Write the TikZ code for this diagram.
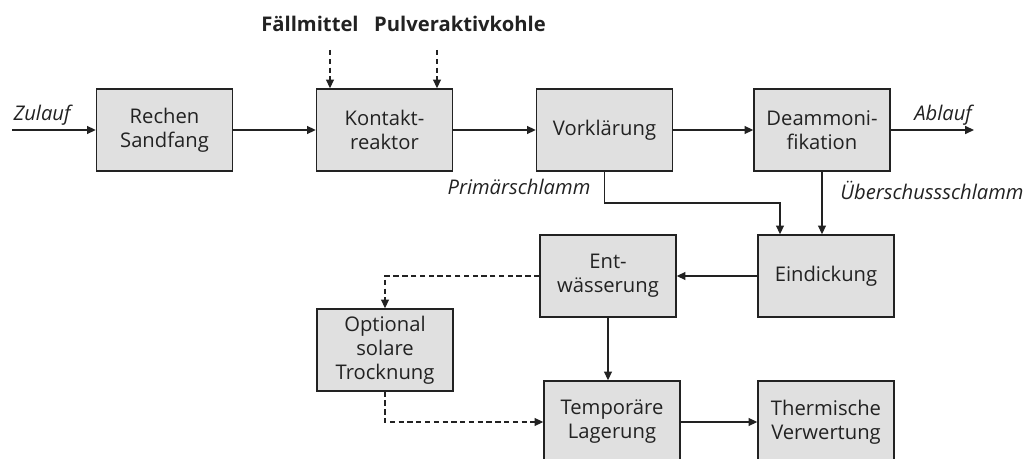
\documentclass[tikz,border=0pt]{standalone}
\usepackage{fontspec}
\setmainfont{Open Sans}
\usetikzlibrary{arrows.meta}
\definecolor{BoxClr}{RGB}{224,224,224}
\definecolor{LineClr}{RGB}{34,34,34}

\begin{document}
\begin{tikzpicture}[x=0.02cm,y=-0.02cm,
  box/.style={draw=LineClr,fill=BoxClr,line width=0.8pt,minimum width=2.72cm,
    minimum height=1.64cm,inner sep=0pt,align=center,text=LineClr,
    font=\fontsize{11.5}{13.6}\selectfont},
  flow/.style={draw=LineClr,line width=0.75pt,-{Triangle[length=5pt,width=4.5pt]}},
  opt/.style={flow,dash pattern=on 3pt off 2pt},
  lbl/.style={text=LineClr,font=\fontsize{11.5}{13.6}\selectfont\itshape},
  head/.style={text=LineClr,font=\fontsize{11.5}{13.6}\selectfont\bfseries}]
\useasboundingbox (0,0) rectangle (1029,459);

\node[box] (rechen) at (164.5,130) {Rechen\\Sandfang};
\node[box] (kontakt) at (384.5,130) {Kontakt-\\reaktor};
\node[box] (vkl) at (604.5,130) {Vorklärung};
\node[box] (deam) at (822,130) {Deammoni-\\fikation};
\node[box] (eind) at (826,276) {Eindickung};
\node[box] (entw) at (608,276) {Ent-\\wässerung};
\node[box] (trock) at (385,350) {Optional\\solare\\Trocknung};
\node[box] (lager) at (612,422) {Temporäre\\Lagerung};
\node[box] (therm) at (826,422) {Thermische\\Verwertung};

\node[head] (faell) at (310,24) {Fällmittel};
\node[head] (pak) at (460,24) {Pulveraktivkohle};
\coordinate (faellend) at (330,50);
\coordinate (pakend) at (437,50);

\coordinate (zulauf) at (12,130);
\coordinate (ablauf) at (974,130);
\coordinate (knick) at (780,203);
\node[lbl] (zulauftxt) at (42,115) {Zulauf};
\node[lbl] (ablauftxt) at (943,115) {Ablauf};
\node[lbl] (primtxt) at (519,187) {Primärschlamm};
\node[lbl] (uebtxt) at (932,190) {Überschussschlamm};

\draw[flow] (zulauf) -- (rechen);
\draw[flow] (rechen) -- (kontakt);
\draw[flow] (kontakt) -- (vkl);
\draw[flow] (vkl) -- (deam);
\draw[flow] (deam) -- (ablauf);
\draw[opt] (faellend) -- (faellend |- kontakt.north);
\draw[opt] (pakend) -- (pakend |- kontakt.north);
\draw[flow] (vkl.south) |- (knick) -- (knick |- eind.north);
\draw[flow] (deam.south) -- (deam.south |- eind.north);
\draw[flow] (eind) -- (entw);
\draw[opt] (entw.west) -| (trock.north);
\draw[flow] (entw.south) -- (entw.south |- lager.north);
\draw[opt] (trock.south) |- (lager.west);
\draw[flow] (lager) -- (therm);

\end{tikzpicture}
\end{document}
